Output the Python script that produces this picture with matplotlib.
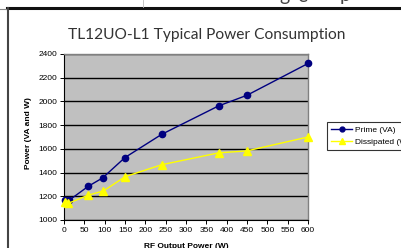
import matplotlib
matplotlib.use("Agg")
import matplotlib.pyplot as plt
from matplotlib.lines import Line2D

title = "TL12UO-L1 Typical Power Consumption"
x_label = "RF Output Power (W)"
y_label = "Power (VA and W)"

prime_x = [2, 12, 60, 95, 150, 240, 380, 450, 600]
prime_y = [1165, 1165, 1285, 1355, 1527, 1722, 1962, 2052, 2320]
diss_x = [2, 10, 60, 97, 150, 240, 380, 450, 600]
diss_y = [1150, 1140, 1210, 1245, 1365, 1466, 1566, 1583, 1700]

x_ticks = list(range(0, 601, 50))
y_ticks = list(range(1000, 2401, 200))

fig = plt.figure(figsize=(4.01, 2.48), dpi=100)
ax = fig.add_axes([64/401, 1-220/248, 244/401, 166/248])
ax.set_facecolor("#C0C0C0")
ax.set_xlim(0, 600)
ax.set_ylim(1000, 2400)
ax.set_xticks(x_ticks)
ax.set_yticks(y_ticks)
ax.yaxis.grid(True, color="black", linewidth=1)
ax.set_axisbelow(True)
for s in ["top", "right"]:
    ax.spines[s].set_color("#808080")
    ax.spines[s].set_linewidth(1)
for s in ["left", "bottom"]:
    ax.spines[s].set_color("black")
    ax.spines[s].set_linewidth(0.8)
ax.tick_params(direction="out", length=3, width=0.7, labelsize=6, pad=2,
               colors="black")
for lab in ax.get_xticklabels() + ax.get_yticklabels():
    lab.set_family("Liberation Sans")

ax.plot(prime_x, prime_y, color="#000080", marker="o", markersize=4.5,
        linewidth=1, label="Prime (VA)", clip_on=False, zorder=3)
ax.plot(diss_x, diss_y, color="#FFFF00", marker="^", markersize=5.5,
        linewidth=1, label="Dissipated (W)", clip_on=False, zorder=3)

fig.text(207/401, 1-35/248, title, ha="center", va="center", fontsize=11.2,
         family="Lato", color="#333333")
fig.text(29/401, 1-133/248, y_label, rotation=90, ha="center", va="center",
         fontsize=6, fontweight="bold", family="Liberation Sans")
fig.text(186/401, 1-246/248, x_label, ha="center", va="center",
         fontsize=6, fontweight="bold", family="Liberation Sans")

# legend (extends past right edge, as in reference)
leg = fig.legend(handles=[
    Line2D([], [], color="#000080", marker="o", markersize=3.5, linewidth=1),
    Line2D([], [], color="#FFFF00", marker="^", markersize=4, linewidth=1)],
    labels=["Prime (VA)", "Dissipated (W)"],
    loc="upper left", bbox_to_anchor=(327/401, 1-122/248),
    prop={"family": "Liberation Sans", "size": 6}, frameon=True,
    fancybox=False, edgecolor="black", handlelength=2.6, handletextpad=0.3,
    borderpad=0.45, labelspacing=0.55, borderaxespad=0)
leg.get_frame().set_linewidth(0.8)

# page frame
fig.add_artist(Line2D([7/401, 1], [1-8/248, 1-8/248], color="#111111",
                      linewidth=2.2, transform=fig.transFigure))
fig.add_artist(Line2D([0, 7/401], [1-9/248, 1-9/248], color="#888888",
                      linewidth=0.8, transform=fig.transFigure))
fig.add_artist(Line2D([7.5/401, 7.5/401], [0, 1-8/248], color="#444444",
                      linewidth=1.5, transform=fig.transFigure))
fig.add_artist(Line2D([143/401, 143/401], [1-7/248, 1], color="#bbbbbb",
                      linewidth=0.6, transform=fig.transFigure))
for tx, ch in [(279, "g"), (297, "e"), (340, "p")]:
    fig.text(tx/401, 1-1.5/248, ch, ha="left", va="baseline",
             fontsize=14, family="Lato", color="#444444")

fig.savefig("out.png", dpi=100)
